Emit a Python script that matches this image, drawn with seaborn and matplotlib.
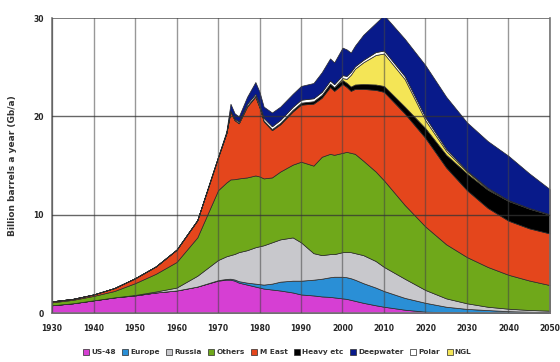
import numpy as np
import pandas as pd
import matplotlib
matplotlib.use("Agg")
import matplotlib.pyplot as plt
import seaborn as sns

years = [1930, 1935, 1940, 1945, 1950, 1955, 1960, 1965, 1970, 1972,
         1973, 1974, 1975, 1977, 1979, 1980, 1981, 1983, 1985, 1988,
         1990, 1993, 1995, 1997, 1998, 2000, 2001, 2002, 2003, 2005,
         2008, 2010, 2015, 2020, 2025, 2030, 2035, 2040, 2045, 2050]

us48 = [0.8, 1.0, 1.3, 1.6, 1.8, 2.1, 2.3, 2.7, 3.3, 3.4,
        3.4, 3.3, 3.1, 2.9, 2.7, 2.6, 2.5, 2.4, 2.3, 2.1,
        1.9, 1.8, 1.7, 1.65, 1.6, 1.5, 1.45, 1.35, 1.25, 1.05,
        0.8, 0.65, 0.35, 0.15, 0.1, 0.08, 0.06, 0.05, 0.04, 0.03]

europe = [0, 0, 0, 0, 0, 0, 0, 0, 0.05, 0.08,
          0.1, 0.12, 0.15, 0.2, 0.3, 0.35, 0.4, 0.6, 0.9, 1.2,
          1.4, 1.6, 1.8, 2.0, 2.1, 2.2, 2.2, 2.2, 2.15, 2.0,
          1.8, 1.6, 1.2, 0.9, 0.55, 0.35, 0.25, 0.15, 0.1, 0.08]

russia = [0, 0, 0, 0, 0.05, 0.1, 0.3, 1.1, 2.05, 2.3,
          2.4, 2.6, 2.95, 3.3, 3.7, 3.85, 4.0, 4.2, 4.3, 4.4,
          3.9, 2.7, 2.4, 2.35, 2.3, 2.5, 2.55, 2.65, 2.7, 2.85,
          2.7, 2.45, 1.95, 1.3, 0.85, 0.57, 0.34, 0.25, 0.18, 0.14]

others = [0.3, 0.35, 0.45, 0.65, 1.2, 1.8, 2.6, 3.9, 7.1, 7.5,
          7.7, 7.6, 7.5, 7.4, 7.3, 7.1, 6.8, 6.6, 6.9, 7.4,
          8.2, 8.9, 10.0, 10.2, 10.1, 10.1, 10.2, 10.1, 10.1, 9.6,
          9.1, 8.8, 7.5, 6.45, 5.5, 4.7, 4.05, 3.45, 3.0, 2.6]

m_east = [0.1, 0.1, 0.15, 0.3, 0.5, 0.75, 1.25, 1.75, 3.35, 5.0,
          6.9, 6.0, 5.6, 7.2, 8.0, 7.0, 5.8, 4.8, 4.8, 5.4,
          5.8, 6.3, 6.0, 6.8, 6.5, 7.0, 6.6, 6.3, 6.6, 7.3,
          8.3, 9.0, 9.3, 9.0, 7.8, 6.8, 6.0, 5.5, 5.3, 5.25]

heavy = [0, 0, 0, 0, 0, 0, 0, 0, 0, 0.03,
         0.04, 0.05, 0.05, 0.08, 0.1, 0.1, 0.1, 0.12, 0.15, 0.18,
         0.2, 0.25, 0.3, 0.35, 0.38, 0.4, 0.42, 0.44, 0.45, 0.5,
         0.55, 0.6, 0.7, 1.0, 1.3, 1.7, 1.85, 2.0, 2.0, 1.9]

ngl = [0, 0, 0, 0, 0, 0, 0, 0, 0, 0,
       0, 0, 0, 0, 0, 0, 0, 0, 0, 0,
       0, 0, 0, 0, 0, 0.2, 0.4, 1.2, 1.6, 2.2,
       3.0, 3.3, 2.8, 0.8, 0.4, 0.2, 0.1, 0.05, 0.02, 0]

polar = [0, 0, 0, 0, 0, 0, 0, 0, 0, 0.02,
         0.05, 0.1, 0.15, 0.2, 0.2, 0.25, 0.25, 0.28, 0.3, 0.3,
         0.3, 0.3, 0.3, 0.3, 0.3, 0.3, 0.3, 0.3, 0.25, 0.25,
         0.3, 0.3, 0.3, 0.3, 0.2, 0.1, 0.1, 0.05, 0.05, 0.05]

deepwater = [0, 0, 0, 0, 0, 0, 0, 0, 0.05, 0.15,
             0.7, 0.55, 0.5, 0.72, 1.2, 1.25, 1.15, 1.4, 1.35, 1.32,
             1.4, 1.55, 2.0, 2.25, 2.22, 2.8, 2.7, 1.96, 2.1, 2.55,
             2.95, 3.6, 3.8, 5.3, 5.3, 4.9, 4.75, 4.5, 3.53, 2.55]

labels = ["US-48", "Europe", "Russia", "Others", "M East",
          "Heavy etc", "Deepwater", "Polar", "NGL"]
x_ticks = list(range(1930, 2051, 10))
y_ticks = [0, 10, 20, 30]

df = pd.DataFrame({
    "US-48": us48, "Europe": europe, "Russia": russia, "Others": others,
    "M East": m_east, "Heavy etc": heavy, "NGL": ngl, "Polar": polar,
    "Deepwater": deepwater,
}, index=years)

sns.set_theme(style="white")
plt.rcParams["font.family"] = ["DejaVu Sans"]

colors = {
    "US-48": "#d63fd3", "Europe": "#2a8fd6", "Russia": "#c8c8cc",
    "Others": "#6fa81a", "M East": "#e4461c", "Heavy etc": "#000000",
    "Deepwater": "#081a8a", "Polar": "#ffffff", "NGL": "#f4e556",
}
stack_order = ["US-48", "Europe", "Russia", "Others", "M East",
               "Heavy etc", "NGL", "Polar", "Deepwater"]
palette = sns.color_palette([colors[k] for k in stack_order])

fig = plt.figure(figsize=(5.6, 3.62), dpi=100)
ax = fig.add_axes([0.093, 0.135, 0.889, 0.815])

polys = ax.stackplot(df.index, [df[k].values for k in stack_order],
                     colors=palette, labels=stack_order,
                     edgecolor="#2a2a2a", linewidth=0.5, zorder=2)
handles = dict(zip(stack_order, polys))

ax.set_xlim(1930, 2050)
ax.set_ylim(0, 30)
ax.set_xticks(x_ticks)
ax.set_yticks(y_ticks)
ax.tick_params(axis="x", labelsize=5.5, length=0, pad=8)
ax.tick_params(axis="y", labelsize=5.5, length=0, pad=6)
for t in ax.get_xticklabels() + ax.get_yticklabels():
    t.set_fontweight("bold")

# grid lines sit over the filled areas
for xv in x_ticks:
    ax.axvline(xv, color="#444444", lw=1.0, alpha=0.55, zorder=3)
for yv in y_ticks[1:3]:
    ax.axhline(yv, color="#333333", lw=1.0, alpha=0.75, zorder=3)
ax.axhline(y_ticks[-1], color="#666666", lw=1.2, zorder=1)

for side in ["left", "right", "top", "bottom"]:
    ax.spines[side].set_color("#777777")
    ax.spines[side].set_linewidth(1.2)
ax.spines["top"].set_visible(False)

ax.set_ylabel("Billion barrels a year (Gb/a)", fontsize=6.5,
              fontweight="bold", labelpad=12, color="#333333")

leg = fig.legend([handles[k] for k in labels], labels, loc="center",
                 bbox_to_anchor=(0.495, 0.028), ncol=9, fontsize=5.3,
                 frameon=False, handlelength=0.8, handleheight=0.9,
                 handletextpad=0.3, columnspacing=0.9, borderaxespad=0)
for t in leg.get_texts():
    t.set_fontweight("bold")
    t.set_color("#333333")

fig.savefig("out.png", dpi=100)
